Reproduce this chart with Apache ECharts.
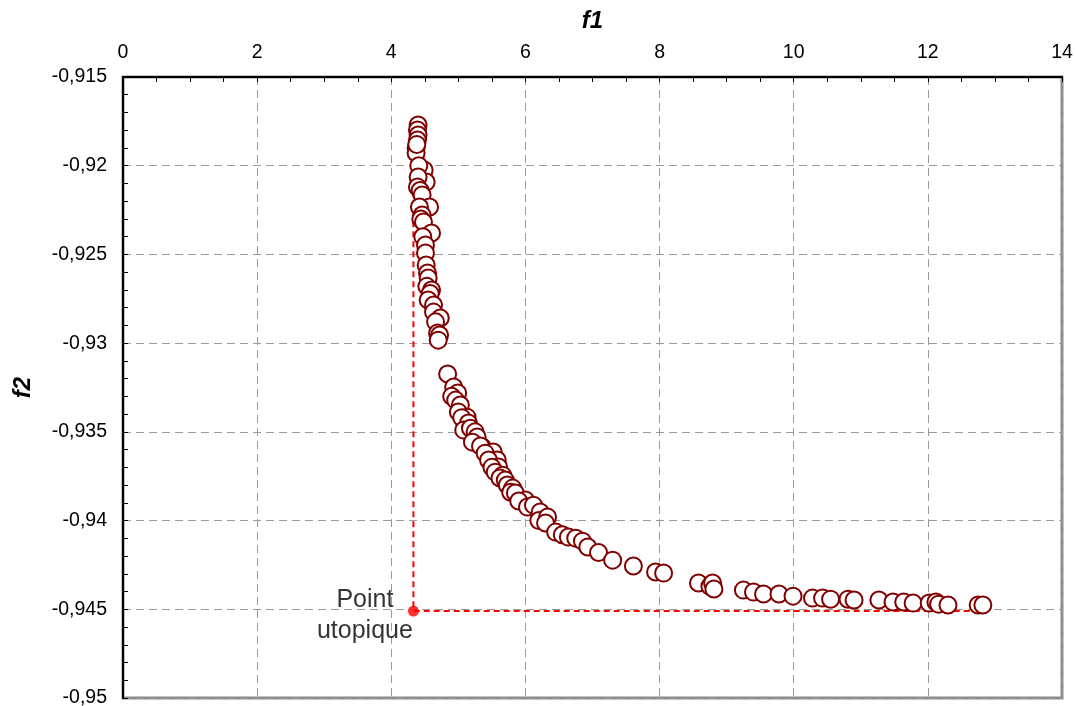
<!DOCTYPE html>
<html><head><meta charset="utf-8">
<script src="https://cdn.jsdelivr.net/npm/echarts@6/dist/echarts.min.js"></script>
<style>html,body{margin:0;padding:0;background:#fff}#c{width:1075px;height:706px}</style>
</head><body><div id="c"></div>
<script>
// Pareto front points (f1, f2)
const paretoF1 = [
 4.40,4.39,4.40,4.39,4.37,4.37,4.38,4.49,4.41,4.52,4.40,4.39,4.43,4.46,4.57,4.42,4.46,4.44,4.48,4.60,4.47,4.51,4.51,4.52,4.54,4.55,4.53,4.60,4.58,4.55,4.63,4.63,4.73,4.66,4.69,4.72,4.70,
 4.84,4.93,4.99,4.90,4.96,5.03,5.00,5.13,5.10,5.05,5.15,5.08,5.18,5.25,5.28,5.21,5.36,5.33,5.52,5.40,5.58,5.45,5.60,5.50,5.55,5.66,5.62,5.70,5.73,5.81,5.78,5.85,6.00,5.90,6.03,6.12,6.22,6.20,6.33,6.30,6.45,6.55,6.64,6.75,6.85,6.93,
 7.09,7.30,7.61,7.94,8.06,8.58,8.75,8.79,8.81,9.25,9.40,9.55,9.78,9.99,10.28,10.43,10.55,10.81,10.90,11.27,11.48,11.64,11.78,12.02,12.12,12.16,12.30,12.75,12.82
];
const paretoF2 = [
 -0.91771,-0.91799,-0.91827,-0.91855,-0.91900,-0.91928,-0.91880,-0.92024,-0.92000,-0.92092,-0.92064,-0.92120,-0.92140,-0.92165,-0.92233,-0.92233,-0.92278,-0.92300,-0.92317,-0.92379,-0.92400,-0.92447,-0.92492,-0.92560,-0.92605,-0.92633,-0.92680,-0.92701,-0.92720,-0.92757,-0.92785,-0.92825,-0.92858,-0.92880,-0.92943,-0.92954,-0.92983,
 -0.93174,-0.93247,-0.93281,-0.93300,-0.93321,-0.93349,-0.93388,-0.93417,-0.93445,-0.93420,-0.93450,-0.93490,-0.93480,-0.93500,-0.93529,-0.93558,-0.93586,-0.93580,-0.93614,-0.93620,-0.93659,-0.93659,-0.93698,-0.93700,-0.93727,-0.93744,-0.93760,-0.93772,-0.93800,-0.93817,-0.93840,-0.93845,-0.93884,-0.93890,-0.93924,-0.93913,-0.93952,-0.94000,-0.93980,-0.94014,-0.94065,-0.94080,-0.94093,-0.94099,-0.94116,-0.94149,
 -0.94180,-0.94223,-0.94256,-0.94290,-0.94296,-0.94352,-0.94370,-0.94352,-0.94386,-0.94392,-0.94403,-0.94414,-0.94414,-0.94426,-0.94437,-0.94437,-0.94443,-0.94443,-0.94448,-0.94448,-0.94459,-0.94459,-0.94465,-0.94465,-0.94459,-0.94471,-0.94476,-0.94476,-0.94476
];
// Utopia point and guide lines
const utopia = [4.33, -0.9451];
const guideTopF2 = -0.9175;
const guideRightF1 = 12.8;
const utopiaLabel = 'Point\nutopique';
// Axis ranges
const xRange = {min: 0, max: 14, interval: 2};
const yRange = {min: -0.95, max: -0.915, interval: 0.005};

const pts = paretoF1.map((x, i) => [x, paretoF2[i]]);
const guide = [[utopia[0], guideTopF2], utopia, [guideRightF1, utopia[1]]];
const fontFam = '"Liberation Sans", Arial, sans-serif';

const chart = echarts.init(document.getElementById('c'));
chart.setOption({
  animation: false,
  grid: {left: 123, top: 77, right: 13, bottom: 8, containLabel: false, outerBoundsMode: 'none',
         show: true, borderColor: '#8a8a8a', borderWidth: 3, backgroundColor: '#fff'},
  xAxis: {
    type: 'value', position: 'top', min: xRange.min, max: xRange.max, interval: xRange.interval,
    name: 'f1', nameLocation: 'middle', nameGap: 44,
    nameTextStyle: {fontFamily: fontFam, fontSize: 24, fontWeight: 'bold', fontStyle: 'italic', color: '#000'},
    axisLine: {show: true, onZero: false, lineStyle: {color: '#000', width: 2}},
    axisTick: {show: true, inside: true, length: 5, lineStyle: {color: '#000', width: 1}},
    minorTick: {show: true, splitNumber: 4, length: 5, lineStyle: {color: '#000', width: 1}},
    axisLabel: {fontFamily: fontFam, fontSize: 19.5, color: '#000', margin: 14},
    splitLine: {show: true, lineStyle: {color: '#9a9a9a', type: [8, 5], width: 1}}
  },
  yAxis: {
    type: 'value', min: yRange.min, max: yRange.max, interval: yRange.interval,
    name: 'f2', nameLocation: 'middle', nameGap: 88, nameRotate: 90,
    nameTextStyle: {fontFamily: fontFam, fontSize: 24, fontWeight: 'bold', fontStyle: 'italic', color: '#000'},
    axisLine: {show: true, onZero: false, lineStyle: {color: '#000', width: 2}},
    axisTick: {show: true, inside: true, length: 5, lineStyle: {color: '#000', width: 1}},
    minorTick: {show: true, splitNumber: 5, length: 5, lineStyle: {color: '#000', width: 1}},
    axisLabel: {fontFamily: fontFam, fontSize: 19.5, color: '#000', margin: 16,
      formatter: v => String(parseFloat(v.toFixed(3))).replace('.', ',')},
    splitLine: {show: true, lineStyle: {color: '#9a9a9a', type: [8, 5], width: 1}}
  },
  series: [
    {type: 'line', data: guide, symbol: 'none', silent: true, z: 2,
     lineStyle: {color: '#ff0000', width: 2, type: [6, 4]}},
    {type: 'scatter', data: pts, symbol: 'circle', symbolSize: 17, z: 3,
     itemStyle: {color: '#ffffff', borderColor: '#800000', borderWidth: 2, opacity: 1}},
    {type: 'scatter', data: [utopia], symbol: 'circle', symbolSize: 11, z: 4,
     itemStyle: {color: '#ff0000'},
     label: {show: true, formatter: utopiaLabel, position: 'left', distance: 43, align: 'center',
       offset: [0, 5], fontFamily: fontFam, fontSize: 25, lineHeight: 31, color: '#000', textBorderWidth: 0}}
  ]
});
</script></body></html>
